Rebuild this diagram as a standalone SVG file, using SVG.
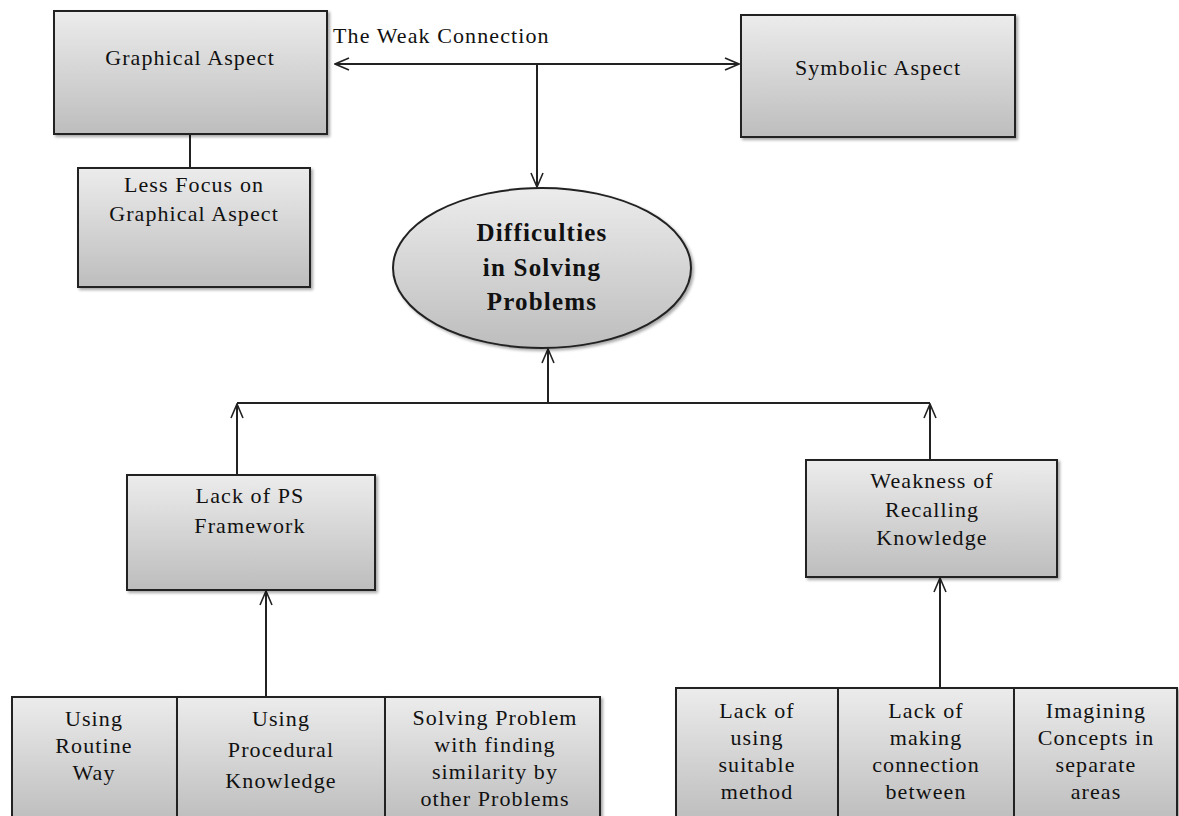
<svg xmlns="http://www.w3.org/2000/svg" width="1179" height="816" viewBox="0 0 1179 816">
<defs>
<linearGradient id="g" x1="0" y1="0" x2="0" y2="1">
<stop offset="0" stop-color="#ececec"/>
<stop offset="1" stop-color="#bdbdbd"/>
</linearGradient>
<filter id="sh" x="-5%" y="-5%" width="115%" height="115%">
<feDropShadow dx="2" dy="2" stdDeviation="1.5" flood-color="#000" flood-opacity="0.35"/>
</filter>
<marker id="arr" viewBox="0 0 16 16" refX="15" refY="8" markerWidth="16" markerHeight="16" markerUnits="userSpaceOnUse" orient="auto-start-reverse">
<path d="M1,2 L15,8 L1,14" fill="none" stroke="#222" stroke-width="1.6"/>
</marker>
</defs>
<style>
.box{fill:url(#g);stroke:#222;stroke-width:2;filter:url(#sh)}
.t{font-family:"Liberation Serif","Times New Roman",serif;font-size:22px;fill:#111;text-anchor:middle;letter-spacing:1.1px}
.b{font-family:"Liberation Serif","Times New Roman",serif;font-size:25px;font-weight:bold;fill:#111;text-anchor:middle;letter-spacing:1.2px}
.c{fill:none;stroke:#222;stroke-width:2}
</style>
<rect width="1179" height="816" fill="#fff"/>
<g id="connectors">
<line class="c" x1="190" y1="133" x2="190" y2="168"/>
<line class="c" x1="335" y1="64" x2="739" y2="64" marker-start="url(#arr)" marker-end="url(#arr)"/>
<line class="c" x1="537" y1="64" x2="537" y2="187" marker-end="url(#arr)"/>
<line class="c" x1="548" y1="403" x2="548" y2="349" marker-end="url(#arr)"/>
<line class="c" x1="237" y1="403" x2="930" y2="403"/>
<line class="c" x1="237" y1="475" x2="237" y2="404" marker-end="url(#arr)"/>
<line class="c" x1="930" y1="460" x2="930" y2="404" marker-end="url(#arr)"/>
<line class="c" x1="266" y1="697" x2="266" y2="591" marker-end="url(#arr)"/>
<line class="c" x1="940" y1="688" x2="940" y2="578" marker-end="url(#arr)"/>
<text class="t" x="333" y="43" style="text-anchor:start">The Weak Connection</text>
</g>
<g id="graphical">
<rect class="box" x="54" y="11" width="273" height="123"/>
<text class="t" x="190" y="65">Graphical Aspect</text>
</g>
<g id="symbolic">
<rect class="box" x="741" y="15" width="274" height="122"/>
<text class="t" x="878" y="75">Symbolic Aspect</text>
</g>
<g id="lessfocus">
<rect class="box" x="78" y="168" width="232" height="119"/>
<text class="t" x="194" y="192">Less Focus on</text>
<text class="t" x="194" y="221">Graphical Aspect</text>
</g>
<g id="difficulties">
<ellipse cx="542" cy="268" rx="149" ry="80" fill="url(#g)" stroke="#222" stroke-width="2" filter="url(#sh)"/>
<text class="b" x="542" y="241">Difficulties</text>
<text class="b" x="542" y="276">in Solving</text>
<text class="b" x="542" y="310">Problems</text>
</g>
<g id="lackps">
<rect class="box" x="127" y="475" width="248" height="115"/>
<text class="t" x="250" y="503">Lack of PS</text>
<text class="t" x="250" y="533">Framework</text>
</g>
<g id="weakness">
<rect class="box" x="806" y="460" width="251" height="117"/>
<text class="t" x="932" y="488">Weakness of</text>
<text class="t" x="932" y="517">Recalling</text>
<text class="t" x="932" y="545">Knowledge</text>
</g>
<g id="routine">
<rect class="box" x="12" y="697" width="165" height="125"/>
<text class="t" x="94" y="726">Using</text>
<text class="t" x="94" y="753">Routine</text>
<text class="t" x="94" y="780">Way</text>
</g>
<g id="procedural">
<rect class="box" x="177" y="697" width="208" height="125"/>
<text class="t" x="281" y="726">Using</text>
<text class="t" x="281" y="757">Procedural</text>
<text class="t" x="281" y="788">Knowledge</text>
</g>
<g id="similarity">
<rect class="box" x="385" y="697" width="215" height="125"/>
<text class="t" x="495" y="725">Solving Problem</text>
<text class="t" x="495" y="752">with finding</text>
<text class="t" x="495" y="779">similarity by</text>
<text class="t" x="495" y="806">other Problems</text>
</g>
<g id="suitable">
<rect class="box" x="676" y="688" width="162" height="134"/>
<text class="t" x="757" y="718">Lack of</text>
<text class="t" x="757" y="745">using</text>
<text class="t" x="757" y="772">suitable</text>
<text class="t" x="757" y="799">method</text>
</g>
<g id="connection">
<rect class="box" x="838" y="688" width="176" height="134"/>
<text class="t" x="926" y="718">Lack of</text>
<text class="t" x="926" y="745">making</text>
<text class="t" x="926" y="772">connection</text>
<text class="t" x="926" y="799">between</text>
</g>
<g id="imagining">
<rect class="box" x="1014" y="688" width="163" height="134"/>
<text class="t" x="1096" y="718">Imagining</text>
<text class="t" x="1096" y="745">Concepts in</text>
<text class="t" x="1096" y="772">separate</text>
<text class="t" x="1096" y="799">areas</text>
</g>
</svg>
